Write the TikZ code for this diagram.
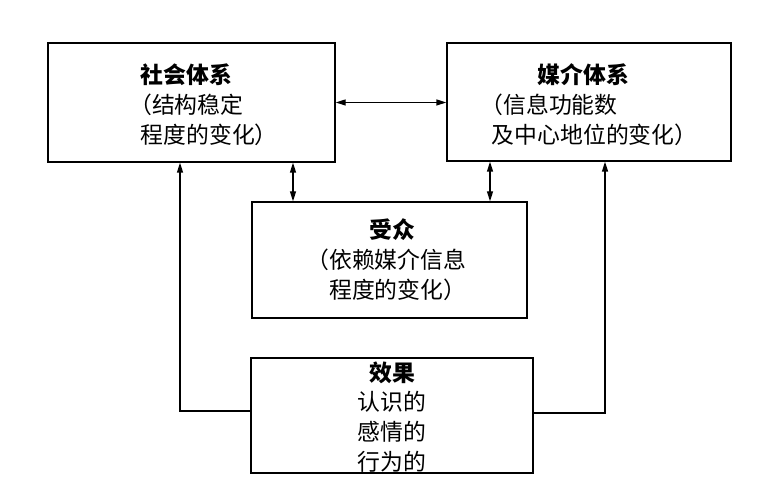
\documentclass[tikz,border=0pt]{standalone}
\usepackage{fontspec}
\setmainfont{Noto Sans CJK SC}[RawFeature=+halt]
\usepackage{tikz}
\usetikzlibrary{arrows.meta}
\tikzstyle{box} = [rectangle,draw=black,line width=0.8pt,fill=white,inner sep=0pt]
\tikzstyle{txt} = [inner sep=0pt, font=\fontsize{13}{17}\selectfont]
\tikzstyle{link} = [line width=0.8pt, >={Triangle[length=2mm,width=1.2mm]}]

\begin{document}
\begin{tikzpicture}
  \useasboundingbox (0,0) rectangle (15.16,10);
  \node[box, minimum width=5.74cm, minimum height=2.38cm](soc) at (3.83,7.95) {};
  \node[box, minimum width=5.68cm, minimum height=2.36cm](med) at (11.78,7.96) {};
  \node[box, minimum width=5.5cm, minimum height=2.32cm](aud) at (7.79,4.8) {};
  \node[box, minimum width=5.64cm, minimum height=2.3cm](eff) at (7.84,1.69) {};
  \node[txt, align=left](soc-t) at (4.07,7.9) {\textbf{社会体系}\\（结构稳定\\程度的变化）};
  \node[txt, align=left](med-t) at (11.78,7.9) {\hspace*{2em}\textbf{媒介体系}\\（信息功能数\\及中心地位的变化）};
  \node[txt, align=center](aud-t) at (7.84,4.8) {\textbf{受众}\\（依赖媒介信息\\程度的变化）};
  \node[txt, align=center](eff-t) at (7.84,1.66) {\textbf{效果}\\认识的\\感情的\\行为的};
  \coordinate (a1) at (5.86,0);
  \coordinate (a2) at (9.8,0);
  \coordinate (lft) at (3.6,1.78);
  \coordinate (rgt) at (12.1,1.74);
  \draw[link, <->] (soc.east) -- (soc.east -| med.west);
  \draw[link, <->] (soc.south -| a1) -- (aud.north -| a1);
  \draw[link, <->] (med.south -| a2) -- (aud.north -| a2);
  \draw[link, ->] (lft -| eff.west) -- (lft) -- (lft |- soc.south);
  \draw[link, ->] (rgt -| eff.east) -- (rgt) -- (rgt |- med.south);
\end{tikzpicture}
\end{document}
